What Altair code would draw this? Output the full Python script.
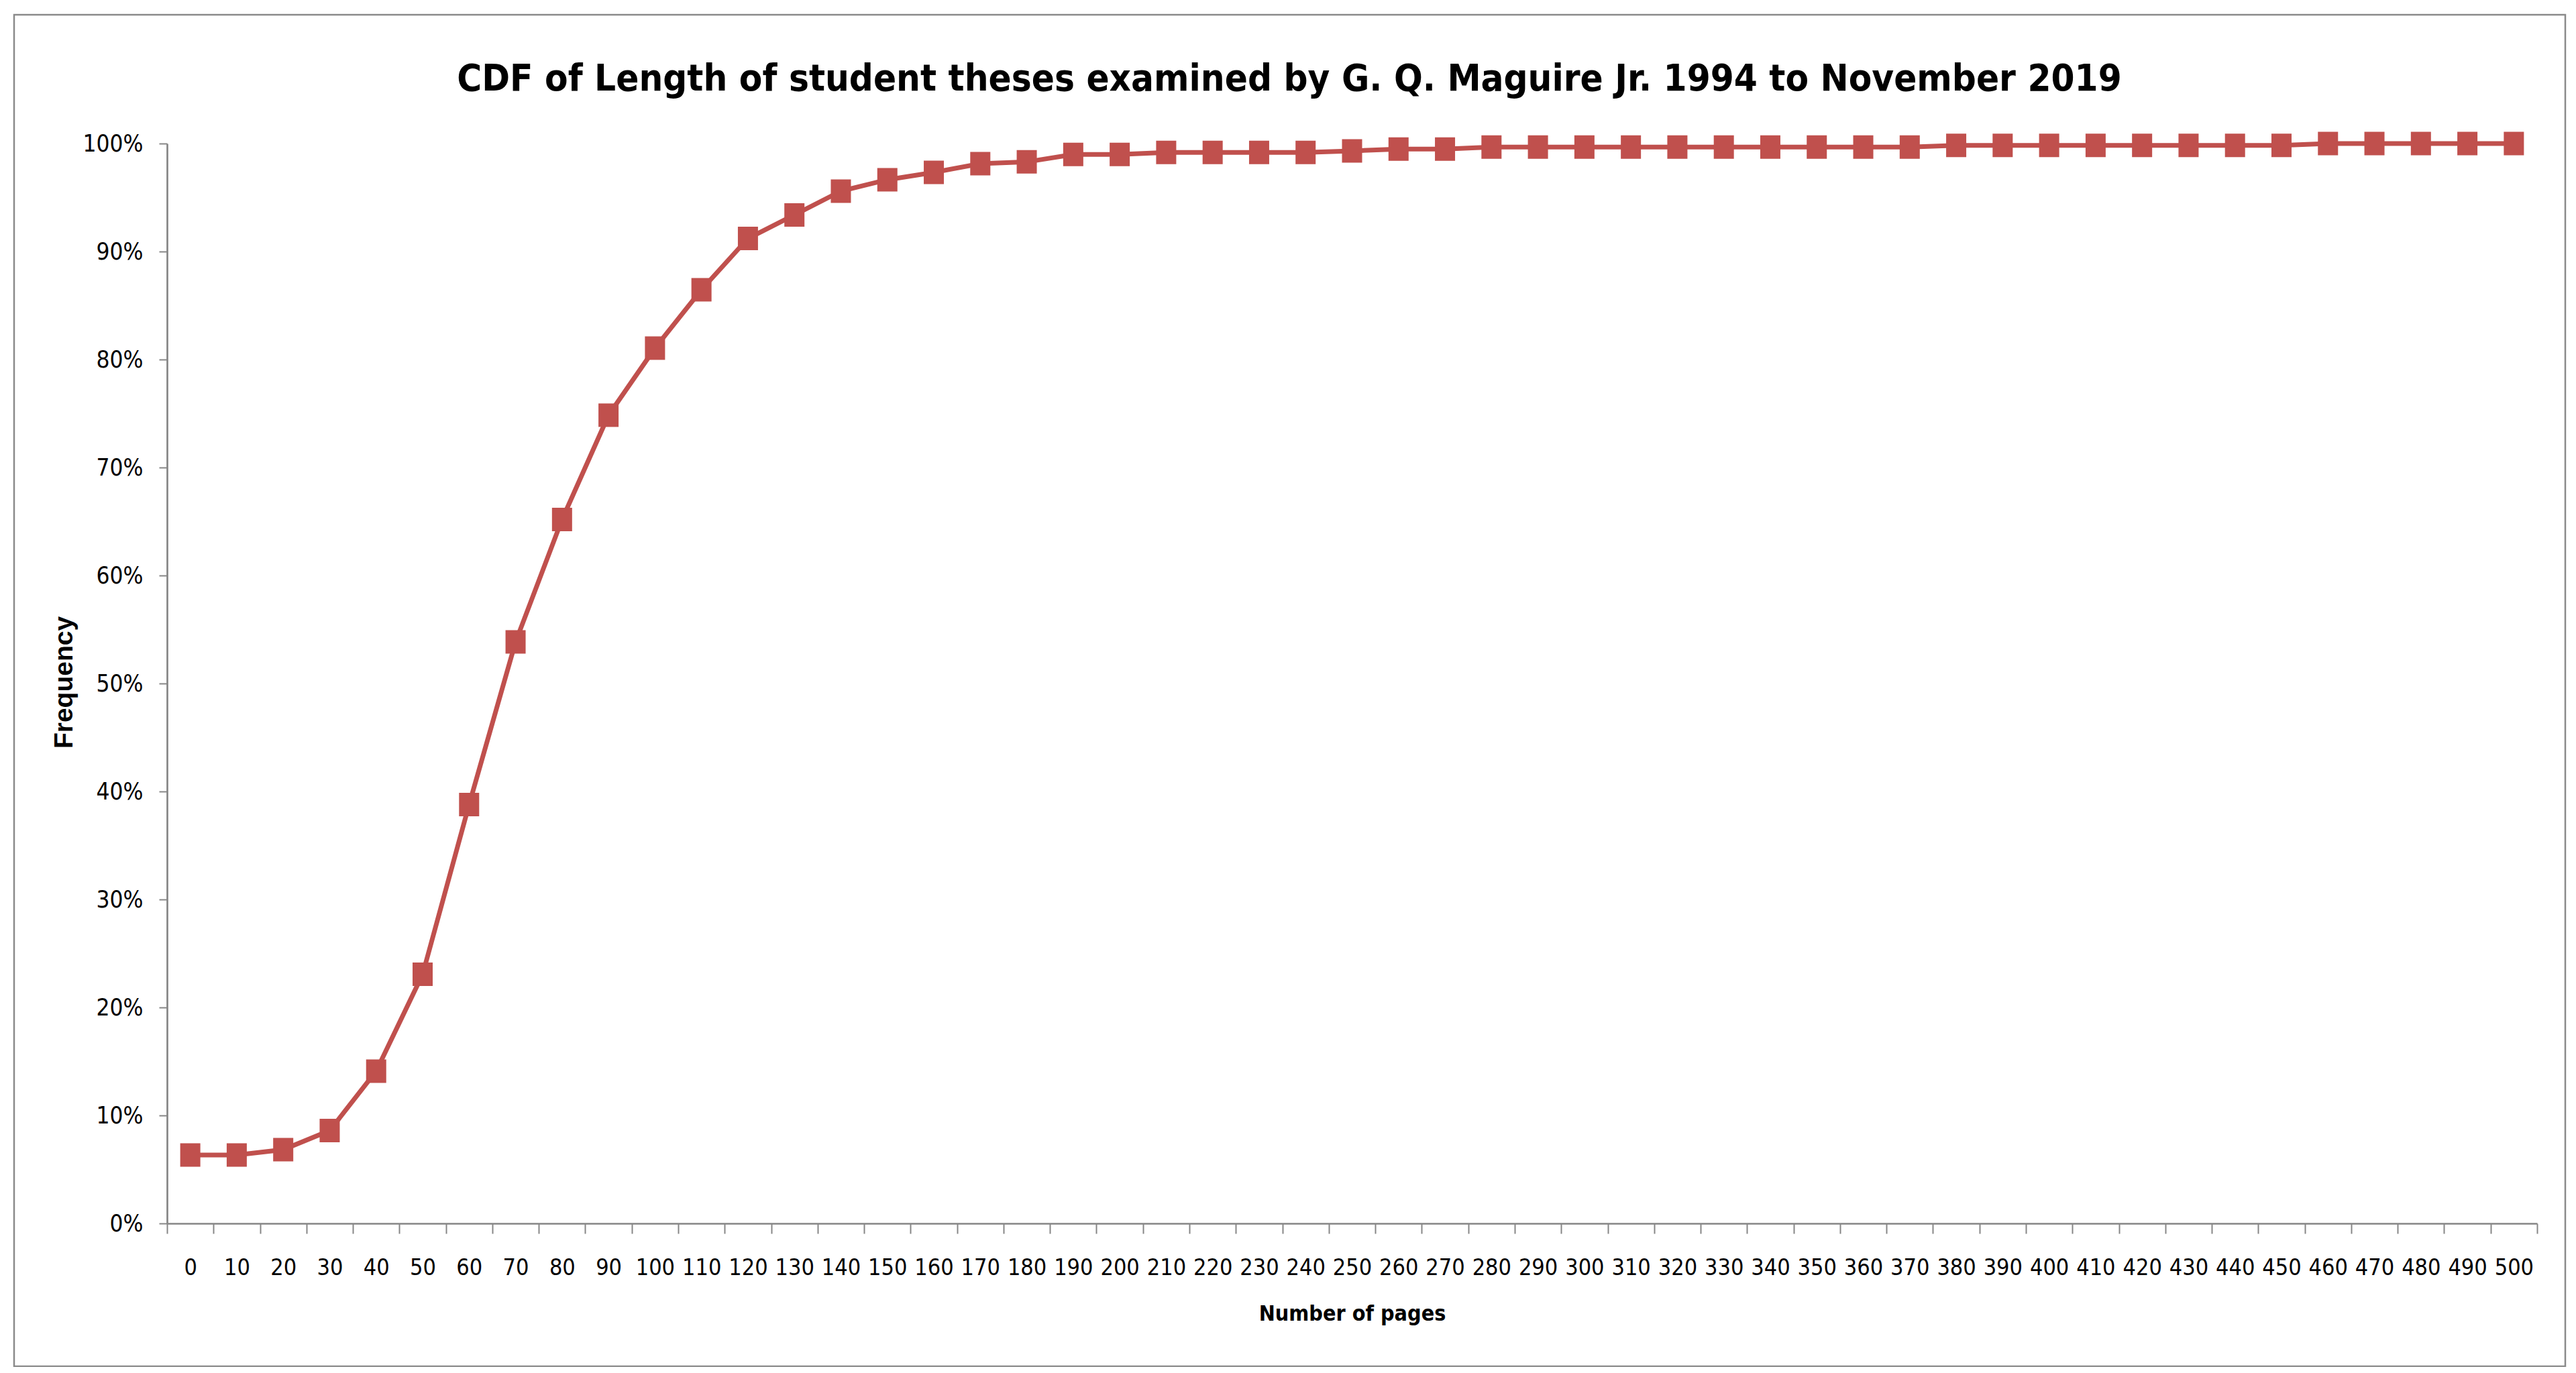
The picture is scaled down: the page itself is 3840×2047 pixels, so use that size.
import altair as alt
import pandas as pd

# ---- data ----
pages = [0, 10, 20, 30, 40, 50, 60, 70, 80, 90,
         100, 110, 120, 130, 140, 150, 160, 170, 180, 190,
         200, 210, 220, 230, 240, 250, 260, 270, 280, 290,
         300, 310, 320, 330, 340, 350, 360, 370, 380, 390,
         400, 410, 420, 430, 440, 450, 460, 470, 480, 490, 500]
cdf = [0.0634, 0.0634, 0.0683, 0.0860, 0.1410, 0.2307, 0.3879, 0.5385, 0.6518, 0.7484,
       0.8106, 0.8646, 0.9121, 0.9339, 0.9559, 0.9665, 0.9733, 0.9814, 0.9830, 0.9899,
       0.9899, 0.9918, 0.9918, 0.9918, 0.9918, 0.9932, 0.9949, 0.9949, 0.9967, 0.9967,
       0.9967, 0.9967, 0.9967, 0.9967, 0.9967, 0.9967, 0.9967, 0.9967, 0.9983, 0.9983,
       0.9983, 0.9983, 0.9983, 0.9983, 0.9983, 0.9983, 1.0000, 1.0000, 1.0000, 1.0000, 1.0000]
y_ticks = [0.0, 0.1, 0.2, 0.3, 0.4, 0.5, 0.6, 0.7, 0.8, 0.9, 1.0]

title_text = "CDF of Length of student theses examined by G. Q. Maguire Jr. 1994 to November 2019"
x_title = "Number of pages"
y_title = "Frequency"

df = pd.DataFrame({"pages": pages, "cdf": cdf})
one = pd.DataFrame({"k": [0]})

NARROW = "Liberation Sans Narrow, DejaVu Sans Condensed, sans-serif"
WIDE = "Liberation Sans, Arial, sans-serif"
RED = "#C0504D"
AXIS = "#868686"

W, H = 3533, 1610

x_enc = alt.X(
    "pages:O",
    sort=None,
    scale=alt.Scale(type="band", paddingInner=0, paddingOuter=0),
    bandPosition=0.5,
    axis=alt.Axis(
        title=x_title,
        labelAngle=0,
        labelOverlap=False,
        tickBand="extent",
        tickSize=15,
        tickWidth=2,
        tickColor=AXIS,
        domainColor=AXIS,
        domainWidth=2.7,
        labelFont=NARROW,
        labelFontSize=34,
        labelColor="#000000",
        labelBaseline="alphabetic",
        labelPadding=61,
        titleFont=NARROW,
        titleFontSize=32,
        titleFontWeight="bold",
        titleColor="#000000",
        titleBaseline="alphabetic",
        titleY=144,
        grid=False,
    ),
)

y_enc = alt.Y(
    "cdf:Q",
    scale=alt.Scale(domain=[0, 1], nice=False, zero=True),
    axis=alt.Axis(
        title=y_title,
        values=y_ticks,
        format=".0%",
        tickSize=12,
        tickWidth=2,
        tickColor=AXIS,
        domainColor=AXIS,
        domainWidth=2.7,
        labelFont=NARROW,
        labelFontSize=35,
        labelColor="#000000",
        labelPadding=24,
        labelBaseline="middle",
        titleFont=WIDE,
        titleFontSize=39,
        titleFontWeight="bold",
        titleColor="#000000",
        titleAngle=270,
        titleBaseline="alphabetic",
        titleX=-142,
        titleY=803,
        grid=False,
    ),
)

line = alt.Chart(df).mark_line(color=RED, strokeWidth=7).encode(x=x_enc, y=y_enc)

points = alt.Chart(df).mark_point(
    shape="M-0.857,-1L0.857,-1L0.857,1L-0.857,1Z",
    size=1225,
    filled=True,
    fill=RED,
    opacity=1,
    strokeWidth=0,
).encode(x=alt.X("pages:O", sort=None, bandPosition=0.5), y="cdf:Q")

border = alt.Chart(one).mark_rect(
    fill=None, filled=False, stroke="#8a8a8a", strokeWidth=2.5
).encode(
    x=alt.value(-228), x2=alt.value(3575),
    y=alt.value(-192), y2=alt.value(1823),
)

title = alt.Chart(one).mark_text(
    text=title_text,
    font=NARROW,
    fontSize=56,
    fontWeight="bold",
    color="#000000",
    align="center",
    baseline="alphabetic",
).encode(x=alt.value(1673), y=alt.value(-79))

chart = alt.layer(border, line, points, title).properties(
    width=W,
    height=H,
    autosize=alt.AutoSizeParams(type="none"),
    padding={"left": 241, "top": 206, "right": 44, "bottom": 214},
    background="#ffffff",
).configure_view(stroke=None)

chart.save("out.html", embed_options={"renderer": "svg", "actions": False})
